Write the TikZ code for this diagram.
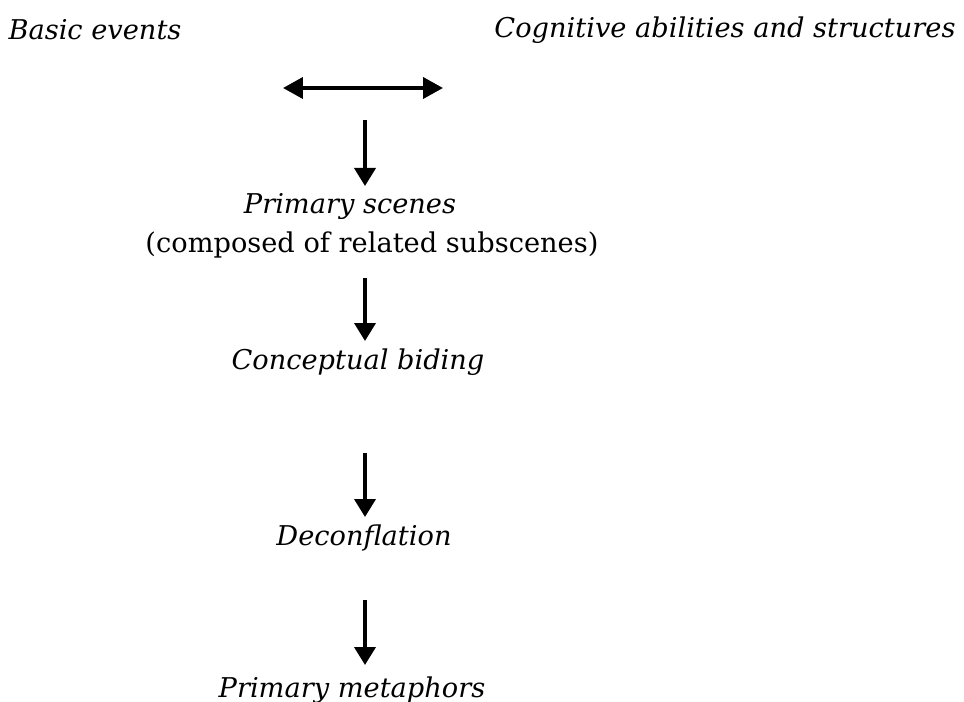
\documentclass[tikz,border=0pt]{standalone}
\usepackage{fontspec}
\setmainfont{DejaVu Serif}
\usetikzlibrary{arrows.meta}
\tikzset{label/.style={font=\fontsize{15.5}{18}\selectfont\itshape, inner sep=0pt},
 plain/.style={font=\fontsize{15.5}{18}\selectfont, inner sep=0pt},
 flow/.style={line width=2.2pt, -{Triangle[width=0.42cm,length=0.36cm]}},
 both/.style={line width=2.2pt, {Triangle[width=0.42cm,length=0.4cm]}-{Triangle[width=0.42cm,length=0.4cm]}},
 }

\begin{document}
\begin{tikzpicture}[x=0.02cm,y=-0.02cm]
        \useasboundingbox (0,0) rectangle (964,702);
        \node[label] (basic) at (95, 30) {Basic events};
        \node[label] (cog) at (725, 30) {Cognitive abilities and structures};
        \coordinate (lft) at (283, 88);
        \coordinate (rgt) at (443, 88);
        \draw [both] (lft) -- (rgt);
        \coordinate (top) at (365, 120);
        \node[label] (scenes) at (350, 207) {Primary scenes};
        \node[plain] (sub) at (372, 245) {(composed of related subscenes)};
        \node[label] (bind) at (358, 362) {Conceptual biding};
        \node[label] (decon) at (364, 538) {Deconflation};
        \node[label] (meta) at (352, 690) {Primary metaphors};
        % arrows down the middle
        \draw [flow] (top) -- (365, 186);
        \draw [flow] (365, 278) -- (365, 341);
        \draw [flow] (365, 453) -- (365, 517);
        \draw [flow] (365, 600) -- (365, 665);
    \end{tikzpicture}
\end{document}
